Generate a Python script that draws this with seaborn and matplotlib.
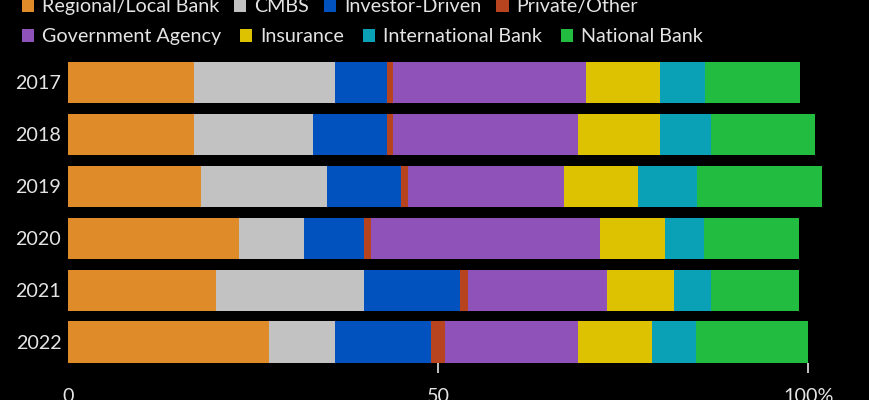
import matplotlib
matplotlib.use("Agg")
import matplotlib.pyplot as plt
import seaborn as sns
import pandas as pd
import numpy as np
from matplotlib import font_manager as fm
from matplotlib.patches import Patch

# ---- data ----
years = ["2017", "2018", "2019", "2020", "2021", "2022"]
categories = ["Regional/Local Bank", "CMBS", "Investor-Driven", "Private/Other",
              "Government Agency", "Insurance", "International Bank", "National Bank"]
regional = [17.0, 17.0, 17.9, 23.1, 19.9, 27.1]
cmbs = [19.0, 16.0, 17.1, 8.8, 20.0, 8.9]
investor = [7.0, 10.0, 10.0, 8.0, 13.0, 13.0]
private = [0.9, 0.9, 0.9, 1.0, 1.1, 1.9]
government = [26.1, 25.0, 21.1, 31.0, 18.8, 18.0]
insurance = [10.0, 11.0, 10.0, 8.8, 9.1, 10.0]
international = [6.1, 6.9, 7.9, 5.2, 4.9, 5.9]
national = [12.8, 14.1, 16.9, 12.8, 12.0, 15.1]
colors = ["#E08B2A", "#C2C2C2", "#0151BE", "#B8431F",
          "#8F52B9", "#DCC200", "#0AA0B5", "#21BC40"]
xticks = [0, 50, 100]
xticklabels = ["0", "50", "100%"]

series = [regional, cmbs, investor, private, government, insurance, international, national]
df = pd.DataFrame({c: v for c, v in zip(categories, series)})
df["year"] = years
cum = df[categories].cumsum(axis=1)
cum["year"] = years

names = {f.name for f in fm.fontManager.ttflist}
fam = "Lato" if "Lato" in names else "Liberation Sans"

sns.set_theme(style="dark")
plt.rcParams["font.family"] = [fam, "DejaVu Sans"]
txt = "#E4E4E4"
fs = 14.2

fig = plt.figure(figsize=(8.7, 4.0), dpi=100, facecolor="black")
ax = fig.add_axes([68.3 / 870, 0.093, 777 / 870, 0.7665])
ax.set_facecolor("black")

for cat, col in reversed(list(zip(categories, colors))):
    sns.barplot(data=cum, x=cat, y="year", order=years, orient="h", color=col,
                saturation=1, width=0.79, linewidth=0, ax=ax)

ax.set_xlim(0, 105)
ax.set_ylim(5.4, -0.5)
ax.set_xlabel("")
ax.set_ylabel("")
for s in ax.spines.values():
    s.set_visible(False)
ax.grid(False)

ax.set_xticks(xticks)
ax.set_xticklabels(xticklabels)
ax.tick_params(axis="x", colors=txt, labelcolor=txt, labelsize=fs, length=7.4,
               width=1.2, pad=10.5, direction="out", bottom=True)
ax.xaxis.get_major_ticks()[0].tick1line.set_visible(False)
ax.tick_params(axis="y", labelcolor=txt, labelsize=fs, length=0, pad=5)

handles = [Patch(facecolor=c, edgecolor="none", label=l) for l, c in zip(categories, colors)]
common = dict(frameon=False, ncol=4, fontsize=fs, labelcolor=txt, borderpad=0,
              borderaxespad=0, handlelength=0.63, handleheight=0.63,
              handletextpad=0.4, loc="center left")
leg1 = fig.legend(handles=handles[:4], bbox_to_anchor=(21.7 / 870, 1 - 6.7 / 400),
                  columnspacing=0.75, **common)
leg2 = fig.legend(handles=handles[4:], bbox_to_anchor=(21.7 / 870, 1 - 36.7 / 400),
                  columnspacing=0.95, **common)

fig.savefig("out.png", dpi=100, facecolor="black")
